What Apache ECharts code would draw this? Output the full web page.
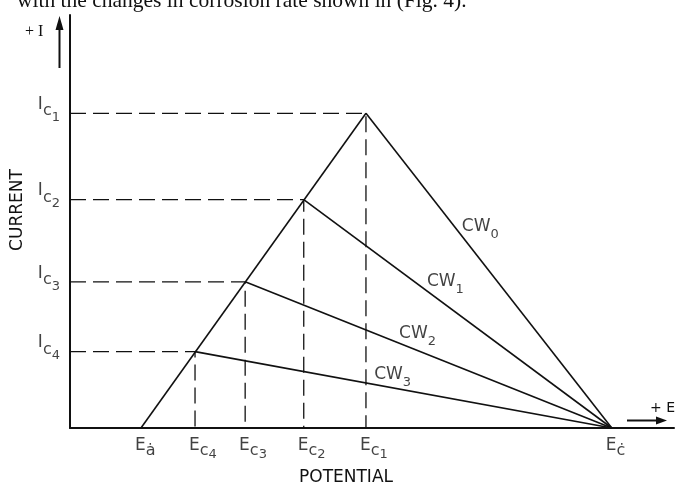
<!DOCTYPE html>
<html>
<head>
<meta charset="utf-8">
<title>Current vs potential</title>
<script src="https://cdn.jsdelivr.net/npm/echarts@6/dist/echarts.min.js"></script>
<style>
html,body{margin:0;padding:0;background:#fff;}
#main{width:675px;height:486px;}
</style>
</head>
<body>
<div id="main"></div>
<script>
// values, arbitrary units (x: potential, y: current)
var eaZero = 11.75;                      // E°a
var ecZero = 89.7;                       // E°c
var ecValues = [49.0, 38.7, 29.0, 20.7]; // Ec1..Ec4
var icValues = [76.2, 55.3, 35.4, 18.5]; // Ic1..Ic4
var peakNames = ['1', '2', '3', '4'];
var cwNames = ['0', '1', '2', '3'];      // CW0..CW3

var ink = '#111';
var font = 'DejaVu Sans';

// rich styles for the subscripted labels
function richSet(mainPad, subPad) {
    return {
        m: {fontFamily: font, fontSize: 17, lineHeight: 17, color: ink, verticalAlign: 'bottom', padding: [0, 0, mainPad, 0]},
        s: {fontFamily: font, fontSize: 16, lineHeight: 16, color: ink, verticalAlign: 'bottom', padding: [0, 0, subPad, 0]},
        d: {fontFamily: font, fontSize: 13, lineHeight: 13, color: ink, verticalAlign: 'bottom'}
    };
}

var series = [];

// anodic line from E°a up through all the peaks
series.push({
    type: 'line', silent: true, symbol: 'none',
    lineStyle: {color: ink, width: 1.6},
    data: [[eaZero, 0], [ecValues[0], icValues[0]]]
});

// cathodic lines CW0..CW3 down to E°c, plus the dashed guides
ecValues.forEach(function (ec, i) {
    series.push({
        type: 'line', silent: true, symbol: 'none',
        lineStyle: {color: ink, width: 1.6},
        data: [[ec, icValues[i]], [ecZero, 0]]
    });
    series.push({
        type: 'line', silent: true, symbol: 'none',
        lineStyle: {color: ink, width: 1.3, type: [16, 7]},
        data: [[0, icValues[i]], [ec, icValues[i]], [ec, 0]]
    });
});

// invisible points that only carry text
function textPoints(data, label) {
    return {
        type: 'scatter', silent: true, clip: false, z: 5,
        symbolSize: 0.1, itemStyle: {color: 'rgba(0,0,0,0)'},
        label: Object.assign({show: true}, label),
        data: data
    };
}

// Ic labels on the current axis
series.push(textPoints(icValues.map(function (ic) { return [0, ic]; }), {
    position: [-10, 11], align: 'right', verticalAlign: 'bottom',
    rich: richSet(11, 5),
    formatter: function (p) { return '{m|I}{s|c}{d|' + peakNames[p.dataIndex] + '}'; }
}));

// potential labels under the axis
var eLabels = [eaZero].concat(ecValues.slice().reverse()).concat([ecZero]);
var eTexts = ['{m|E}{s|ȧ}'].concat(peakNames.slice().reverse().map(function (n) {
    return '{m|E}{s|c}{d|' + n + '}';
})).concat(['{m|E}{s|ċ}']);
series.push(textPoints(eLabels.map(function (e) { return [e, 0]; }), {
    position: [-6, 33], align: 'left', verticalAlign: 'bottom',
    rich: richSet(7, 2),
    formatter: function (p) { return eTexts[p.dataIndex]; }
}));

// CW labels sit on their lines, part way down
var cwAlong = [0.39, 0.40, 0.42, 0.43];
series.push(textPoints(ecValues.map(function (ec, i) {
    var t = cwAlong[i];
    return [ec + (ecZero - ec) * t, icValues[i] * (1 - t)];
}), {
    position: [0, 5], align: 'left', verticalAlign: 'bottom',
    rich: richSet(6, 6),
    formatter: function (p) { return '{m|CW}{d|' + cwNames[p.dataIndex] + '}'; }
}));

var chart = echarts.init(document.getElementById('main'));
chart.setOption({
    animation: false,
    backgroundColor: '#fff',
    grid: {left: 70, right: 1, top: 15, bottom: 58},
    xAxis: {
        type: 'value', min: 0, max: 100,
        axisLine: {show: true, lineStyle: {color: ink, width: 2}},
        axisTick: {show: false}, axisLabel: {show: false}, splitLine: {show: false}
    },
    yAxis: {
        type: 'value', min: 0, max: 100,
        axisLine: {show: true, lineStyle: {color: ink, width: 2}},
        axisTick: {show: false}, axisLabel: {show: false}, splitLine: {show: false}
    },
    graphic: [
        {type: 'text', left: 17, top: -10, style: {text: 'with the changes in corrosion rate shown in (Fig. 4).', fontFamily: 'Liberation Serif', fontSize: 21.5, fill: ink}},
        {type: 'text', x: 25, y: 32, style: {text: '+ I', fontFamily: 'Liberation Serif', fontSize: 16, fill: ink, verticalAlign: 'middle'}},
        {type: 'line', shape: {x1: 59.5, y1: 68, x2: 59.5, y2: 26}, style: {stroke: ink, lineWidth: 2}},
        {type: 'polygon', shape: {points: [[55.5, 30], [63.5, 30], [59.5, 16]]}, style: {fill: ink}},
        {type: 'text', x: 650, y: 408, style: {text: '+ E', fontFamily: font, fontSize: 14, fill: ink, verticalAlign: 'middle'}},
        {type: 'line', shape: {x1: 627, y1: 420.5, x2: 658, y2: 420.5}, style: {stroke: ink, lineWidth: 2}},
        {type: 'polygon', shape: {points: [[656, 416.5], [656, 424.5], [667, 420.5]]}, style: {fill: ink}},
        {type: 'text', x: 18, y: 210, rotation: Math.PI / 2, style: {text: 'CURRENT', fontFamily: font, fontSize: 17, fill: ink, align: 'center', verticalAlign: 'middle'}},
        {type: 'text', x: 346, y: 478, style: {text: 'POTENTIAL', fontFamily: font, fontSize: 17, fill: ink, align: 'center', verticalAlign: 'middle'}}
    ],
    series: series
});
</script>
</body>
</html>
